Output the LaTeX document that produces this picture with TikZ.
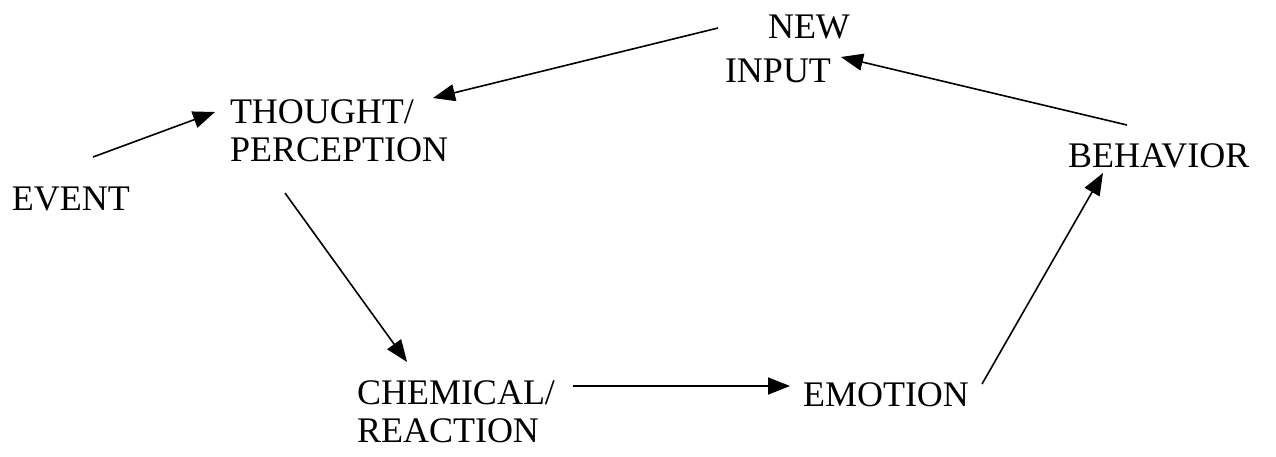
\documentclass[tikz,border=0pt]{standalone}
\usepackage{fontspec}
\setmainfont{Liberation Serif}
\usetikzlibrary{arrows.meta}
\begin{document}
\begin{tikzpicture}[x=1pt,y=-1pt,
  lbl/.style={inner sep=0pt, outer sep=0pt, font=\fontsize{36}{37.5}\selectfont, align=left, anchor=base west},
  conn/.style={line width=1.6pt, -{Triangle[length=22pt,width=17pt]}}]
\useasboundingbox[fill=white] (0,0) rectangle (1276,456);
\node[lbl] (event) at (12,210) {EVENT};
\node[lbl] (thought) at (230,161) {THOUGHT/\\PERCEPTION};
\node[lbl] (newinput) at (725,82) {\hspace*{43pt}NEW\\[6.5pt]INPUT};
\node[lbl] (behavior) at (1068,167) {BEHAVIOR};
\node[lbl] (chemical) at (357,442) {CHEMICAL/\\REACTION};
\node[lbl] (emotion) at (803,406) {EMOTION};
\draw[conn] ([shift={(81,-53)}]event.base west) -- ([shift={(-15,-49)}]thought.base west);
\draw[conn] ([shift={(-7,-54)}]newinput.base west) -- ([shift={(203,-63)}]thought.base west);
\draw[conn] ([shift={(55,32)}]thought.base west) -- ([shift={(50,-80)}]chemical.base west);
\draw[conn] ([shift={(216,-56)}]chemical.base west) -- ([shift={(-13,-20)}]emotion.base west);
\draw[conn] ([shift={(179,-22)}]emotion.base west) -- ([shift={(35,6)}]behavior.base west);
\draw[conn] ([shift={(59,-42)}]behavior.base west) -- ([shift={(116,-25)}]newinput.base west);
\end{tikzpicture}
\end{document}
